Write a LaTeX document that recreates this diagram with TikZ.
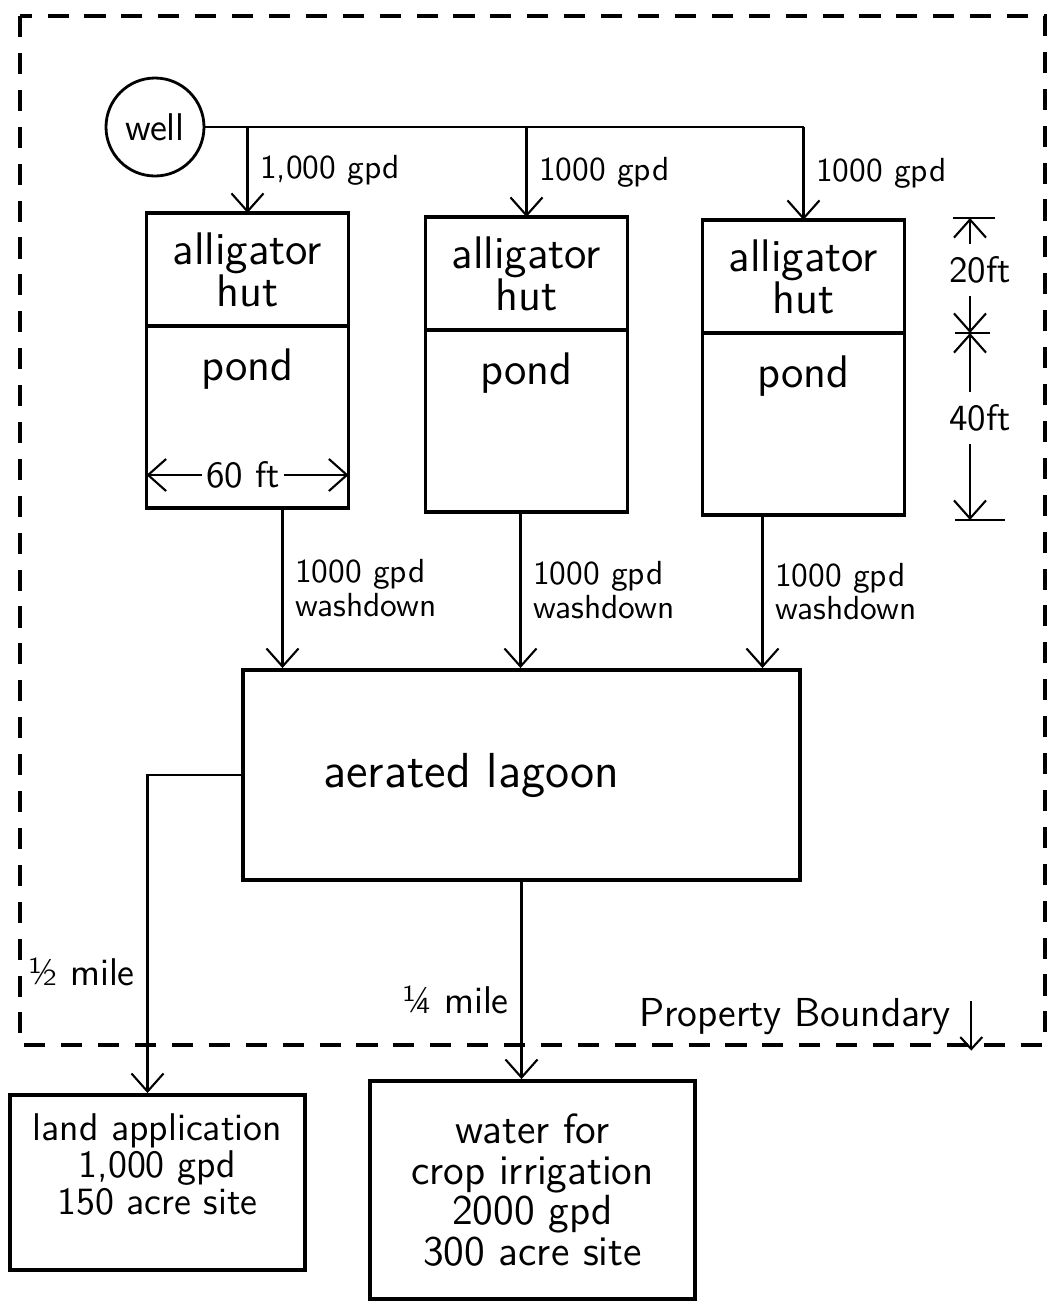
\documentclass[tikz,border=0pt]{standalone}
\usepackage{fontspec}
\usetikzlibrary{positioning}
\usetikzlibrary{arrows.meta}

\tikzset{
  hutbox/.style={draw, line width=1.1pt, outer sep=0pt, minimum width=2.02cm,
    minimum height=1.13cm, align=center, font=\sffamily\fontsize{13}{12}\selectfont},
  pondbox/.style={draw, line width=1.1pt, outer sep=0pt, minimum width=2.02cm,
    minimum height=1.82cm},
  pondtext/.style={anchor=north, yshift=-1mm, font=\sffamily\fontsize{13}{12}\selectfont},
  sitebox/.style={draw, line width=1.1pt, align=center},
  flow/.style={->, semithick},
  flowlabel/.style={align=left, font=\sffamily\fontsize{9.5}{9.5}\selectfont},
  boundary/.style={line width=1.2pt, dash pattern=on 6pt off 4.5pt},
}

\begin{document}
\begin{tikzpicture}[>={Straight Barb[length=1.8mm,width=3.2mm]}]
\useasboundingbox (0,0) rectangle (10.47,-13.01);

% property boundary
\draw[boundary] (0.2,-0.16) rectangle (10.45,-10.45);

% well and the three huts
\node[draw, thick, circle, minimum size=0.98cm, font=\sffamily\fontsize{11}{11}\selectfont] (well) at (1.55,-1.27) {well};

\node[hutbox, anchor=north] (h1) at (2.475,-2.13) {alligator\\hut};
\node[pondbox, below=0pt of h1, label={[pondtext]north:pond}] (p1) {};
\node[hutbox, anchor=north] (h2) at (5.265,-2.17) {alligator\\hut};
\node[pondbox, below=0pt of h2, label={[pondtext]north:pond}] (p2) {};
\node[hutbox, anchor=north] (h3) at (8.035,-2.20) {alligator\\hut};
\node[pondbox, below=0pt of h3, label={[pondtext]north:pond}] (p3) {};

\draw[semithick] (well.east) -- (well.east -| h3.north);
\draw[flow] (well.east -| h1.north) -- (h1.north) node[midway, right, flowlabel] {1,000 gpd};
\draw[flow] (well.east -| h2.north) -- (h2.north) node[midway, right, flowlabel] {1000 gpd};
\draw[flow] (well.east -| h3.north) -- (h3.north) node[midway, right, flowlabel] {1000 gpd};

% pond width
\node[font=\sffamily\fontsize{10.5}{10.5}\selectfont, inner sep=1pt] (ft60) at (2.43,-4.75) {60 ft};
\draw[flow] (ft60) -- (ft60 -| p1.west);
\draw[flow] (ft60) -- (ft60 -| p1.east);

% hut and pond lengths
\coordinate (d0) at (9.70,-2.18);
\coordinate (d1) at (9.70,-3.33);
\coordinate (d2) at (9.70,-5.20);
\node[font=\sffamily\fontsize{10.5}{10.5}\selectfont] (ft20) at (9.80,-2.70) {20ft};
\node[font=\sffamily\fontsize{10.5}{10.5}\selectfont] (ft40) at (9.80,-4.18) {40ft};
\draw ([xshift=-1.7mm]d0) -- ([xshift=2.5mm]d0);
\draw ([xshift=-1.5mm]d1) -- ([xshift=2mm]d1);
\draw ([xshift=-1.5mm]d2) -- ([xshift=3.5mm]d2);
\draw[flow] (ft20.north -| d0) -- (d0);
\draw[flow] (ft20.south -| d1) -- (d1);
\draw[flow] (ft40.north -| d1) -- (d1);
\draw[flow] (ft40.south -| d2) -- (d2);

% lagoon
\node[draw, line width=1.1pt, minimum width=5.57cm, minimum height=2.10cm,
  label={[xshift=-5mm, font=\sffamily\fontsize{14}{14}\selectfont]center:aerated lagoon}] (lagoon) at (5.215,-7.75) {};

\draw[flow] ([xshift=3.5mm]p1.south) -- ([xshift=3.5mm]p1.south |- lagoon.north)
  node[midway, right, flowlabel] {1000 gpd\\washdown};
\draw[flow] ([xshift=-0.6mm]p2.south) -- ([xshift=-0.6mm]p2.south |- lagoon.north)
  node[midway, right, flowlabel] {1000 gpd\\washdown};
\draw[flow] ([xshift=-4.1mm]p3.south) -- ([xshift=-4.1mm]p3.south |- lagoon.north)
  node[midway, right, flowlabel] {1000 gpd\\washdown};

% off site
\node[sitebox, minimum width=2.95cm, minimum height=1.75cm,
  font=\sffamily\fontsize{11}{10.5}\selectfont] (land) at (1.575,-11.825)
  {land application\\1,000 gpd\\150 acre site\\};
\node[sitebox, minimum width=3.25cm, minimum height=2.18cm,
  font=\sffamily\fontsize{12}{11.5}\selectfont] (water) at (5.325,-11.90)
  {water for\\crop irrigation\\2000 gpd\\300 acre site};

\draw[flow] (lagoon.west) -| ([xshift=-1mm]land.north)
  node[pos=0.81, left, font=\sffamily\fontsize{11}{11}\selectfont] {½ mile};
\draw[flow] (lagoon.south) -- (lagoon.south |- water.north)
  node[pos=0.6, left, font=\sffamily\fontsize{11}{11}\selectfont] {¼ mile};

\node[font=\sffamily\fontsize{11.5}{11.5}\selectfont] (pb) at (7.95,-10.17) {Property Boundary};
\draw[semithick, -{Straight Barb[length=1.2mm,width=2.2mm]}] ([xshift=0.8mm,yshift=-1.5mm]pb.north east) -- ([xshift=0.8mm,yshift=-0.3mm]pb.south east);
\end{tikzpicture}
\end{document}
